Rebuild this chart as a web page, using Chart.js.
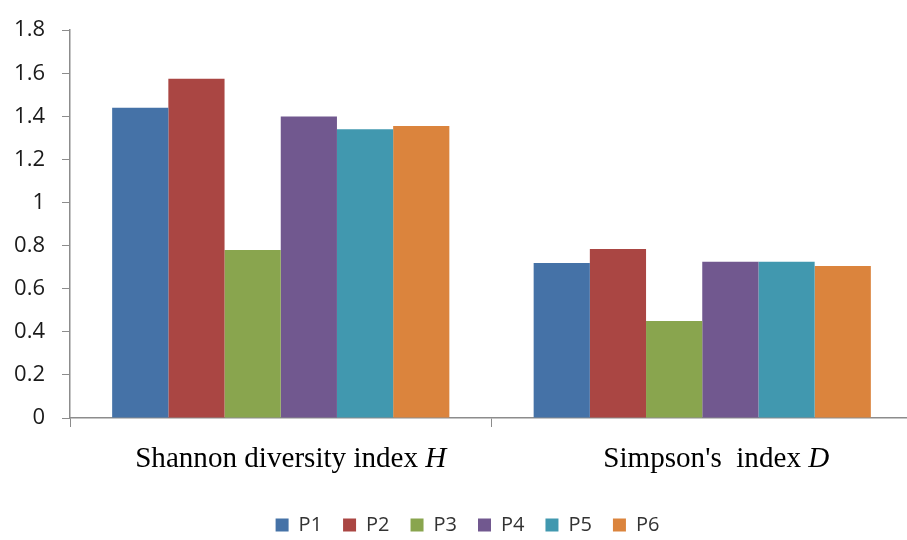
<!DOCTYPE html>
<html>
<head>
<meta charset="utf-8">
<title>Diversity indices</title>
<script src="https://cdn.jsdelivr.net/npm/chart.js@4.4.1/dist/chart.umd.min.js"></script>
<style>
  html, body { margin: 0; padding: 0; background: #fff; overflow: hidden; }
  #wrap { position: relative; width: 913px; height: 540px; }
</style>
</head>
<body>
<div id="wrap"><canvas id="divChart"></canvas></div>
<script>
// --- data ---
const categoryText = ["Shannon diversity index ", "Simpson's  index "];
const categoryItalic = ["H", "D"];
const seriesNames = ["P1", "P2", "P3", "P4", "P5", "P6"];
const seriesColors = ["#4572A7", "#AA4643", "#89A54E", "#71588F", "#4198AF", "#DB843D"];
const shannonH = [1.44, 1.575, 0.78, 1.40, 1.34, 1.355];
const simpsonD = [0.72, 0.785, 0.45, 0.725, 0.725, 0.705];
const yTicks = [0, 0.2, 0.4, 0.6, 0.8, 1, 1.2, 1.4, 1.6, 1.8];

const axisGray = "#8c8c8c";
const sansFont = "'Open Sans', Lato, sans-serif";

// draws the category labels underneath, with the italic symbol at the end
const categoryLabels = {
  id: "categoryLabels",
  afterLayout(chart) {
    // the legend in the original sits a bit right of centre and a bit lower
    chart.legend.left += 22;
    chart.legend.top += 5;
    chart.legend.bottom += 5;
  },
  afterDraw(chart) {
    const ctx = chart.ctx;
    const xs = chart.scales.x;
    const squeeze = 0.97; // the serif text in the original is a little narrow
    const plain = "30px 'Liberation Serif', 'Times New Roman', serif";
    const ital = "italic 30px 'Liberation Serif', 'Times New Roman', serif";
    ctx.save();
    ctx.fillStyle = "#000";
    ctx.textBaseline = "alphabetic";
    ctx.textAlign = "left";
    categoryText.forEach((txt, i) => {
      ctx.font = plain;
      const w1 = ctx.measureText(txt).width;
      ctx.font = ital;
      const w2 = ctx.measureText(categoryItalic[i]).width;
      const cx = xs.getPixelForValue(i) + 10 + i * 4;
      ctx.save();
      ctx.translate(cx, 467);
      ctx.scale(squeeze, 1);
      const x0 = -(w1 + w2) / 2;
      ctx.font = plain;
      ctx.fillText(txt, x0, 0);
      ctx.font = ital;
      ctx.fillText(categoryItalic[i], x0 + w1, 0);
      ctx.restore();
    });
    ctx.restore();
  }
};

const datasets = seriesNames.map((name, i) => ({
  label: name,
  data: [shannonH[i], simpsonD[i]],
  backgroundColor: seriesColors[i],
  borderWidth: 0,
  barPercentage: 1.0,
  categoryPercentage: 0.8
}));

new Chart(document.getElementById("divChart"), {
  type: "bar",
  data: {
    labels: categoryText.map((t, i) => t + categoryItalic[i]),
    datasets: datasets
  },
  plugins: [categoryLabels],
  options: {
    responsive: true,
    maintainAspectRatio: false,
    animation: false,
    layout: { padding: { top: 6, left: 0, right: 0, bottom: 0 } },
    plugins: {
      tooltip: { enabled: false },
      legend: {
        position: "bottom",
        labels: {
          boxWidth: 13,
          boxHeight: 13,
          padding: 21,
          color: "#333",
          font: { family: sansFont, size: 20 }
        }
      }
    },
    scales: {
      x: {
        offset: true,
        grid: {
          offset: true,
          drawOnChartArea: false,
          tickLength: 9,
          color: axisGray
        },
        border: { color: axisGray, width: 1.5 },
        ticks: { display: false },
        afterFit(scale) { scale.height = 71; }
      },
      y: {
        min: 0,
        max: 1.8,
        afterBuildTicks(scale) { scale.ticks = yTicks.map(v => ({ value: v })); },
        afterFit(scale) { scale.width = 70; },
        grid: {
          drawOnChartArea: false,
          tickLength: 8,
          color: axisGray
        },
        border: { color: axisGray, width: 1.5 },
        ticks: {
          color: "#1a1a1a",
          padding: 17,
          font: { family: sansFont, size: 22 },
          callback: v => String(Number(v.toFixed(1)))
        }
      }
    }
  }
});
</script>
</body>
</html>
